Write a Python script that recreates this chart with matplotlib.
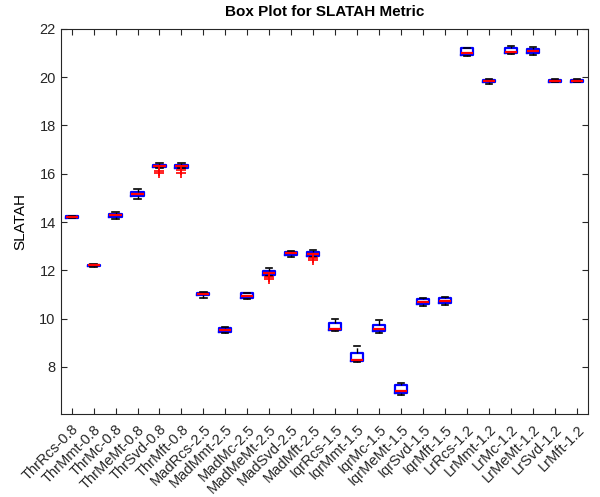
import matplotlib
matplotlib.use("Agg")
import matplotlib.pyplot as plt
from matplotlib.transforms import ScaledTranslation

plt.rcParams['font.family'] = ['Liberation Sans', 'DejaVu Sans']

labels = ['ThrRcs-0.8', 'ThrMmt-0.8', 'ThrMc-0.8', 'ThrMeMt-0.8', 'ThrSvd-0.8', 'ThrMft-0.8',
          'MadRcs-2.5', 'MadMmt-2.5', 'MadMc-2.5', 'MadMeMt-2.5', 'MadSvd-2.5', 'MadMft-2.5',
          'IqrRcs-1.5', 'IqrMmt-1.5', 'IqrMc-1.5', 'IqrMeMt-1.5', 'IqrSvd-1.5', 'IqrMft-1.5',
          'LrRcs-1.2', 'LrMmt-1.2', 'LrMc-1.2', 'LrMeMt-1.2', 'LrSvd-1.2', 'LrMft-1.2']

# box statistics
med = [14.20, 12.20, 14.27, 15.15, 16.32, 16.31,
       11.02, 9.52, 10.95, 11.90, 12.70, 12.66,
       9.58, 8.30, 9.55, 7.00, 10.70, 10.75,
       20.98, 19.84, 21.06, 21.08, 19.85, 19.85]
q1 = [14.17, 12.17, 14.20, 15.08, 16.26, 16.25,
      10.96, 9.46, 10.86, 11.82, 12.64, 12.58,
      9.52, 8.25, 9.47, 6.92, 10.62, 10.66,
      20.90, 19.80, 21.00, 21.00, 19.81, 19.81]
q3 = [14.23, 12.23, 14.34, 15.24, 16.38, 16.37,
      11.08, 9.60, 11.05, 11.98, 12.75, 12.74,
      9.82, 8.58, 9.75, 7.25, 10.80, 10.85,
      21.20, 19.88, 21.20, 21.16, 19.89, 19.90]
whislo = [14.15, 12.15, 14.12, 14.97, 16.22, 16.22,
          10.85, 9.40, 10.83, 11.78, 12.57, 12.55,
          9.47, 8.22, 9.42, 6.85, 10.52, 10.56,
          20.86, 19.73, 20.97, 20.92, 19.79, 19.79]
whishi = [14.25, 12.25, 14.40, 15.35, 16.45, 16.45,
          11.10, 9.66, 11.07, 12.08, 12.80, 12.86,
          10.00, 8.86, 9.95, 7.35, 10.86, 10.90,
          21.22, 19.93, 21.30, 21.26, 19.91, 19.92]
outliers = [[], [], [], [], [16.12, 16.02], [16.14, 16.02],
            [], [], [], [11.72, 11.62], [], [12.52, 12.42],
            [], [], [], [], [], [],
            [], [], [], [], [], []]

stats = []
for i in range(len(labels)):
    stats.append({'label': labels[i], 'med': med[i], 'q1': q1[i], 'q3': q3[i],
                  'whislo': whislo[i], 'whishi': whishi[i], 'fliers': outliers[i]})

fig = plt.figure(figsize=(6, 4.97), dpi=100)
ax = fig.add_axes([0.101, 0.167, 0.879, 0.775])

ax.bxp(stats, positions=range(1, 25), widths=0.55, showfliers=True,
       boxprops=dict(color='#0000ff', linewidth=1.6),
       medianprops=dict(color='#ff0000', linewidth=1.6),
       whiskerprops=dict(color='black', linewidth=1.0, linestyle='--'),
       capprops=dict(color='black', linewidth=1.2),
       flierprops=dict(marker='+', markeredgecolor='#ff0000', markersize=7, markeredgewidth=1.2),
       capwidths=0.28)

ax.set_xlim(0.5, 24.5)
ax.set_ylim(6.05, 22)
ax.set_yticks(range(8, 23, 2))
ax.set_xticks(range(1, 25))
ax.set_xticklabels(labels, rotation=45, ha='right', va='top', rotation_mode='anchor', fontsize=10.5)
# shift the rotated labels like MATLAB does
offset = ScaledTranslation(9 / 72, -4 / 72, fig.dpi_scale_trans)
for lab in ax.get_xticklabels():
    lab.set_transform(lab.get_transform() + offset)
ax.tick_params(direction='in', top=True, right=True, length=4, colors='#262626', labelsize=10.5)
ax.tick_params(axis='x', pad=6)
for s in ax.spines.values():
    s.set_color('#262626')
    s.set_linewidth(0.8)
ax.set_ylabel('SLATAH', fontsize=11, labelpad=9)
ax.set_title('Box Plot for SLATAH Metric', fontsize=11, fontweight='bold', pad=9)

fig.savefig('out.png', dpi=100)
